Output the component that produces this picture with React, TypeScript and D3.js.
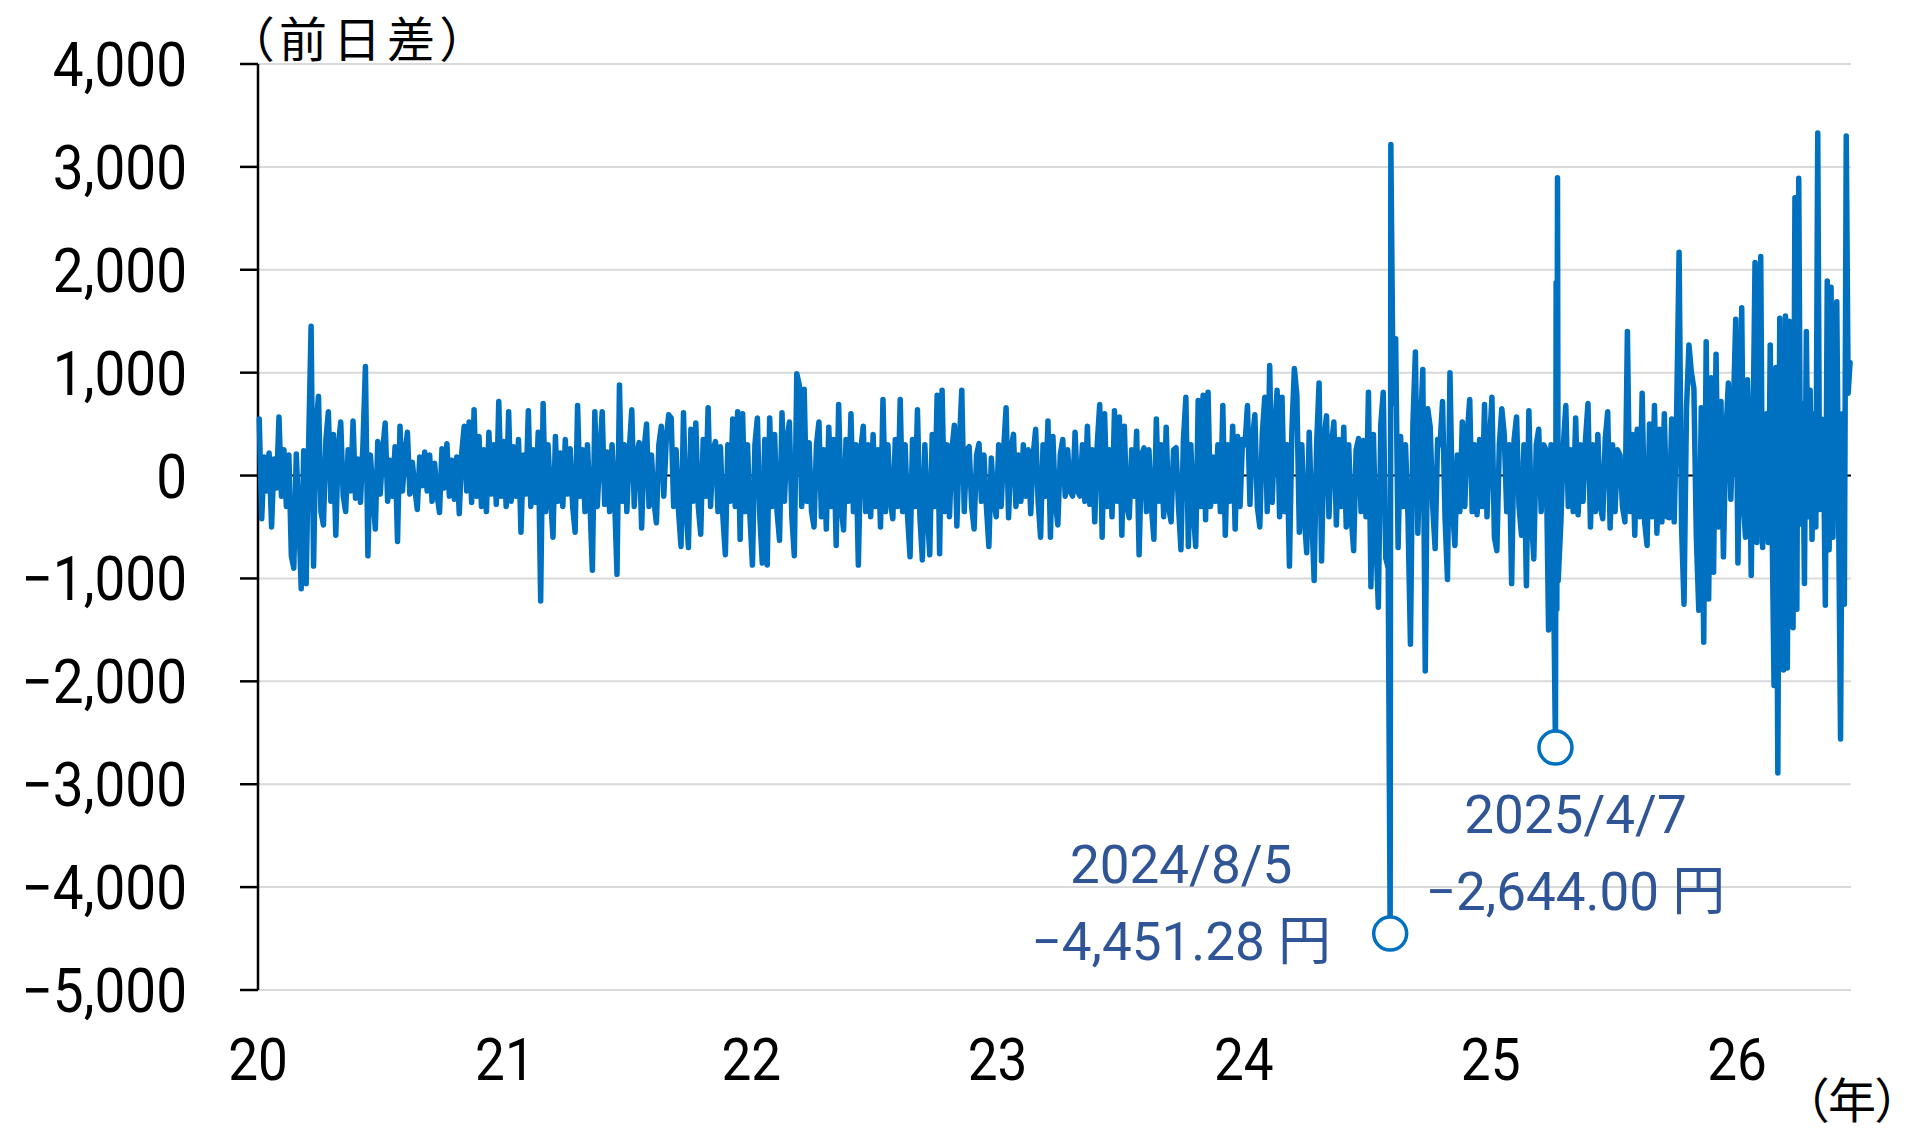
import React from 'react';
import * as d3 from 'd3';

// Nikkei 225 daily change (yen).
// Each yearly list is spread evenly across that year.
const years = [2020, 2021, 2022, 2023, 2024, 2025, 2026];

const changes2020 = [
  550, -420, 180, -150, 220, -500, 160, -120, 570, -200,
  250, -300, 200, -780, -900, 210, -400, -1100, 240, -1050,
  300, 1450, -880, 480, 770, -350, -480, 350, 620, -250,
  400, -580, 280, 520, -200, -350, 250, -150, 530, -220,
  160, -260, 300, 1060, -780, 200, -150, -520, 330, -180,
  240, 510, -250, 150, -200, 280, -640, 480, -150, 200,
  420, -180, 130, -120, -330, 180, -100, 230, -150, 200,
  -250, 120, -180, -360, 260, -120, 310, -200, 150, -230,
  180, -370, 220, 480, -150, 520, -260, 640, -200, 380,
  -300, 250, -350, 420, -180, 300, -280, 720, -200, 330,
];

const changes2021 = [
  -300, 620, -250, 280, -200, 350, -550, 200, -180, 630,
  -300, 250, -260, 420, -1220, 700, -350, 300, -200, -600,
  380, -250, 220, -300, 350, -180, 260, -300, -550, 680,
  -200, 250, -350, 300, -250, -920, 620, -300, 200, 620,
  -280, 230, -350, 300, -200, -960, 880, -250, 300, -350,
  250, 640, -300, 200, 320, -510, 250, 500, -300, 200,
  -250, -460, 300, 480, -200, 350, 590, 560, -300, 250,
  -350, -690, 610, -300, -700, 450, -250, 510, -300, -570,
  350, -200, 660, -300, 250, 330, -350, 280, -400, -770,
  300, -250, 550, -300, 620, -620, 600, -350, 300, -400,
];

const changes2022 = [
  -870, 300, 560, -400, -850, 350, -870, 560, -300, 400,
  -350, -630, 610, -250, 350, 520, -400, -780, 990, 880,
  -300, 840, -250, 320, -350, -500, 300, 520, -400, 250,
  -520, 470, -300, 350, -680, 690, -300, -530, 350, -250,
  600, -350, 300, -870, 250, 480, -350, 300, -400, 400,
  -300, 250, -500, 740, -350, 300, -250, -420, 350, -300,
  740, -350, 300, -400, -790, 350, -300, 640, -400, -820,
  300, -350, -770, 400, -300, 780, -760, 830, -350, 300,
  -400, 250, 490, -490, 300, 830, -350, 250, 280, -300,
  -520, 200, 310, -250, 200, -300, -690, 170, -250, -400,
];

const changes2023 = [
  300, -300, 250, 660, -410, 250, 400, -300, 200, -250,
  300, -200, 250, -370, 200, 450, -250, -600, 300, -200,
  530, -600, 380, -250, -480, 200, 350, -200, 250, -150,
  -200, 420, -150, -200, 300, -250, 480, -280, 250, -450,
  300, 690, -600, 600, -300, 250, -400, 630, -250, 570,
  -580, 480, -300, -410, 250, -200, 430, -770, 200, 270,
  -350, 250, -300, -620, 550, -250, 300, -400, 470, -300,
  -450, 250, 270, -300, -720, 350, 760, -690, 300, -350,
  -690, 730, -300, 780, -430, 810, -300, 180, -250, 300,
  -350, 680, -580, 300, -250, 480, -520, 380, -300, 350,
];

const changes2024 = [
  300, 680, -280, 350, 590, -300, -500, 400, 760, -350,
  1070, -260, 400, 830, -400, 760, -350, 300, -880, 450,
  1040, 780, -550, 300, -400, -750, 420, -350, -1020, 300,
  900, -830, 350, 580, -400, 300, 520, -480, 350, -300,
  470, -500, 300, -400, -730, 250, 360, -350, 340, -400,
  810, -1080, 400, -600, -1280, 500, 810, -800, -900, 300,
  700, 1330, -700, 380, -300, 300, -400, -1640, 500, 1200,
  -560, 400, 1030, -1900, 650, 470, -300, -710, 350, 300,
  720, -400, -1010, 1000, -300, -680, 200, -350, 520, -300,
  400, 740, -350, 300, -380, 350, -300, 690, -400, 300,
];

const changes2025 = [
  760, -600, -730, 300, 650, 400, -350, 300, -1050, 350,
  570, -300, -580, 300, -1070, 630, -400, -810, 300, 450,
  -350, 300, 250, -1500, 300, -990, -400, 350, -450, 300,
  680, -300, 250, -350, 560, -380, 300, -250, 350, 700,
  -500, 300, -350, 400, -300, -420, 350, 620, -510, 300,
  -350, 250, 200, -300, -450, 1400, -350, 400, -580, 450,
  -400, 800, -450, -680, 500, -400, 680, -560, 450, -450,
  600, -400, -410, 550, -450, 600, 2170, -500, -1250, 650,
  1270, 1000, 850, -600, -1310, 660, -1620, 1300, -1200, 950,
  -940, 1180, -500, 720, -790, 400, 900, -230, 600, 1520,
];

const changes2026 = [
  -850, 400, 1630, -300, -600, 930, 300, -970, 500, 2070,
  -650, 800, 2130, -700, 400, 600, -650, 1270, -500, -2040,
  1050, -2890, 1530, -600, -1890, 1550, -1870, 1500, 400, -1480,
  2700, -1300, 2890, -470, 700, -1050, 1400, -400, 830, -620,
  600, -500, 3330, -330, 550, 300, -1260, 1890, -720, 1830,
  -600, 900, 1690, -400, -2560, 600, -1250, 3300, 800, 1100,
];

const changesByYear = [changes2020, changes2021, changes2022, changes2023, changes2024, changes2025, changes2026];
const lastDate = '2026-06-19';

// days that stand out, placed on their exact dates
const eventDates = ['2024-08-05', '2024-08-06', '2025-04-07', '2025-04-08', '2025-04-09', '2025-04-10', '2025-04-11'];
const eventValues = [-4451.28, 3217.04, -2644.0, 1876, -1300, 2894.97, -1020];

const calloutDates = ['2024-08-05', '2025-04-07'];
const calloutDateLabels = ['2024/8/5', '2025/4/7'];
const calloutValueLabels = ['−4,451.28 円', '−2,644.00 円'];

const yTicks = [4000, 3000, 2000, 1000, 0, -1000, -2000, -3000, -4000, -5000];
const xTickLabels = ['20', '21', '22', '23', '24', '25', '26'];

const parse = d3.timeParse('%Y-%m-%d');
const DAY = 86400000;

type Pt = { date: Date; value: number };

function buildSeries(): Pt[] {
  const events: Pt[] = eventDates.map((d, i) => ({ date: parse(d)!, value: eventValues[i] }));
  const pts: Pt[] = [];
  years.forEach((y, k) => {
    const vals = changesByYear[k];
    const start = new Date(y, 0, 1).getTime();
    const end = y === 2026 ? parse(lastDate)!.getTime() : new Date(y + 1, 0, 1).getTime();
    vals.forEach((v, i) => {
      const t = start + ((i + 0.5) / vals.length) * (end - start);
      // skip samples that collide with an exact-date event
      if (events.some(e => Math.abs(e.date.getTime() - t) < 2.5 * DAY)) return;
      pts.push({ date: new Date(t), value: v });
    });
  });
  return pts.concat(events).sort((a, b) => a.date.getTime() - b.date.getTime());
}

const App = () => {
  const width = 1916;
  const height = 1133;
  const left = 258;
  const right = 1851;

  const data = buildSeries();

  const x = d3.scaleTime()
    .domain([new Date(2020, 0, 1), parse(lastDate)!])
    .range([left, right]);
  const y = d3.scaleLinear().domain([-5000, 4000]).range([990, 64]);

  const line = d3.line<Pt>().x(d => x(d.date)).y(d => y(d.value));
  const fmt = d3.format(',');

  const blue = '#0070C0';
  const noteBlue = '#2F5597';
  const latin = "Roboto, 'Noto Sans CJK JP', sans-serif";
  const jp = "'Noto Sans CJK JP', sans-serif";

  // label offsets from each marker
  const calloutOffsets = [
    { dx: -209, dy1: -51, dy2: 26 },
    { dx: 20, dy1: 85, dy2: 162 },
  ];

  return (
    <svg width={width} height={height} style={{ position: 'absolute', left: 0, top: 0, background: '#fff' }}>
      <rect width={width} height={height} fill="#fff" />

      {/* gridlines */}
      {yTicks.filter(v => v !== 0).map(v => (
        <line key={v} x1={left} x2={right} y1={y(v)} y2={y(v)} stroke="#D9D9D9" strokeWidth={2} />
      ))}
      <line x1={left} x2={right} y1={y(0)} y2={y(0)} stroke="#000" strokeWidth={2} />

      {/* y axis */}
      <line x1={left} x2={left} y1={y(4000)} y2={y(-5000)} stroke="#000" strokeWidth={2.5} />
      {yTicks.map(v => (
        <g key={v}>
          <line x1={left - 18} x2={left} y1={y(v)} y2={y(v)} stroke="#000" strokeWidth={2.5} />
          <text
            transform={`translate(187,${y(v) + 22}) scale(0.9,1)`}
            textAnchor="end"
            fontFamily={latin}
            fontSize={61}
            fill="#000"
          >
            {fmt(v)}
          </text>
        </g>
      ))}

      <text x={249} y={57} fontFamily={jp} fontSize={48} letterSpacing={6} fill="#000" style={{ fontFeatureSettings: '"palt"' }}>
        （前日差）
      </text>

      {/* x labels */}
      {xTickLabels.map((t, i) => (
        <text
          key={t}
          transform={`translate(${x(new Date(years[i], 0, 1))},1080) scale(0.9,1)`}
          textAnchor="middle"
          fontFamily={latin}
          fontSize={59}
          fill="#000"
        >
          {t}
        </text>
      ))}
      <text x={1852} y={1118} textAnchor="middle" fontFamily={jp} fontSize={48} fill="#000" style={{ fontFeatureSettings: '"palt"' }}>
        （年）
      </text>

      {/* series */}
      <path d={line(data) || ''} fill="none" stroke={blue} strokeWidth={5.5} strokeLinejoin="round" strokeLinecap="round" />

      {/* callouts */}
      {calloutDates.map((d, i) => {
        const p = data.find(pt => pt.date.getTime() === parse(d)!.getTime())!;
        const cx = x(p.date);
        const cy = y(p.value);
        const o = calloutOffsets[i];
        return (
          <g key={d}>
            <circle cx={cx} cy={cy} r={16.5} fill="#fff" stroke={blue} strokeWidth={3.5} />
            <text x={cx + o.dx} y={cy + o.dy1} textAnchor="middle" fontFamily={latin} fontSize={53} fill={noteBlue}>
              {calloutDateLabels[i]}
            </text>
            <text x={cx + o.dx} y={cy + o.dy2} textAnchor="middle" fontFamily={latin} fontSize={53} fill={noteBlue}>
              {calloutValueLabels[i]}
            </text>
          </g>
        );
      })}
    </svg>
  );
};

export default App;
